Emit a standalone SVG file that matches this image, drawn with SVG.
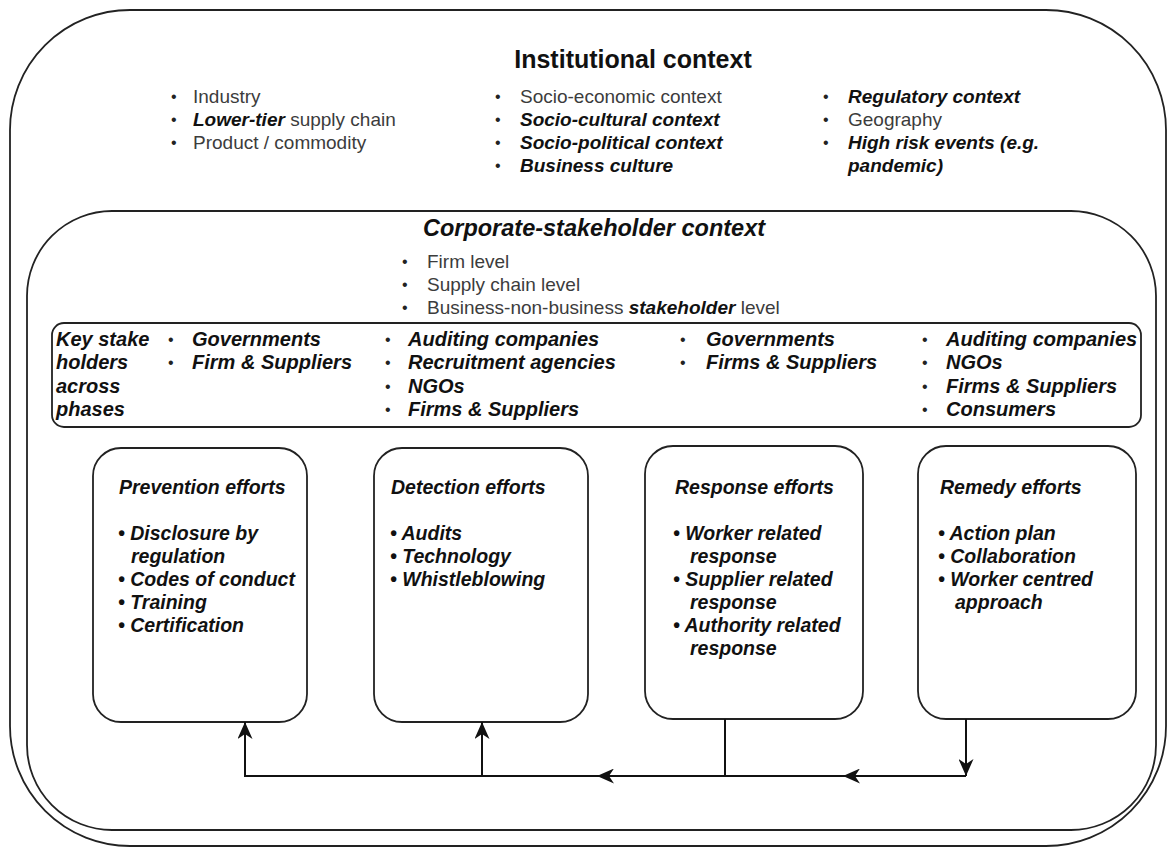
<svg xmlns="http://www.w3.org/2000/svg" width="1167" height="847" viewBox="0 0 1167 847">
<defs>
<marker id="arr" markerUnits="userSpaceOnUse" markerWidth="18" markerHeight="15" refX="17" refY="7.5" orient="auto">
<path d="M0,0 L17,7.5 L0,15 L5,7.5 z" fill="#111"/>
</marker>
<style>
text{font-family:"Liberation Sans",Arial,sans-serif}
.box{fill:none;stroke:#222;stroke-width:1.8}
.n{font-size:19px;fill:#3c3c3c}
.bi{font-weight:bold;font-style:italic;fill:#111}
.k{font-size:20px;font-weight:bold;font-style:italic;fill:#111}
.e{font-size:19.5px;font-weight:bold;font-style:italic;fill:#111}
.h{font-size:25px;font-weight:bold;fill:#111}
.hc{font-size:23.5px;font-weight:bold;font-style:italic;fill:#111}
.dot{font-size:16px;fill:#222;font-style:normal;font-weight:normal}
.con{fill:none;stroke:#111;stroke-width:2}
</style>
</defs>
<rect width="1167" height="847" fill="#fff"/>

<g id="institutional">
<rect class="box" x="10" y="10" width="1156" height="836" rx="120" ry="120"/>
<text class="h" x="633" y="68" text-anchor="middle">Institutional context</text>
<g class="n">
<text class="dot" x="171" y="102">•</text><text x="193" y="103">Industry</text>
<text class="dot" x="171" y="125">•</text><text x="193" y="126"><tspan class="bi">Lower-tier</tspan> supply chain</text>
<text class="dot" x="171" y="148">•</text><text x="193" y="149">Product / commodity</text>
<text class="dot" x="495" y="102">•</text><text x="520" y="103">Socio-economic context</text>
<text class="dot" x="495" y="125">•</text><text class="bi" x="520" y="126">Socio-cultural context</text>
<text class="dot" x="495" y="148">•</text><text class="bi" x="520" y="149">Socio-political context</text>
<text class="dot" x="495" y="171">•</text><text class="bi" x="520" y="172">Business culture</text>
<text class="dot" x="823" y="102">•</text><text class="bi" x="848" y="103">Regulatory context</text>
<text class="dot" x="823" y="125">•</text><text x="848" y="126">Geography</text>
<text class="dot" x="823" y="148">•</text><text class="bi" x="848" y="149">High risk events (e.g.</text>
<text class="bi" x="848" y="172">pandemic)</text>
</g>
</g>

<g id="corporate">
<rect class="box" x="27" y="211" width="1129" height="619" rx="85" ry="85"/>
<text class="hc" x="594" y="236" text-anchor="middle">Corporate-stakeholder context</text>
<g class="n">
<text class="dot" x="402" y="267">•</text><text x="427" y="268">Firm level</text>
<text class="dot" x="402" y="290">•</text><text x="427" y="291">Supply chain level</text>
<text class="dot" x="402" y="313">•</text><text x="427" y="314">Business-non-business <tspan class="bi">stakeholder</tspan> level</text>
</g>
</g>

<g id="key-stakeholders">
<rect class="box" x="52" y="323" width="1089" height="104" rx="12" ry="12"/>
<g class="k">
<text x="56" y="346">Key stake</text>
<text x="56" y="369">holders</text>
<text x="56" y="393">across</text>
<text x="56" y="416">phases</text>
<text class="dot" x="168" y="345">•</text><text x="192" y="346">Governments</text>
<text class="dot" x="168" y="368">•</text><text x="192" y="369">Firm &amp; Suppliers</text>
<text class="dot" x="385" y="345">•</text><text x="408" y="346">Auditing companies</text>
<text class="dot" x="385" y="368">•</text><text x="408" y="369">Recruitment agencies</text>
<text class="dot" x="385" y="392">•</text><text x="408" y="393">NGOs</text>
<text class="dot" x="385" y="415">•</text><text x="408" y="416">Firms &amp; Suppliers</text>
<text class="dot" x="680" y="345">•</text><text x="706" y="346">Governments</text>
<text class="dot" x="680" y="368">•</text><text x="706" y="369">Firms &amp; Suppliers</text>
<text class="dot" x="922" y="345">•</text><text x="946" y="346">Auditing companies</text>
<text class="dot" x="922" y="368">•</text><text x="946" y="369">NGOs</text>
<text class="dot" x="922" y="392">•</text><text x="946" y="393">Firms &amp; Suppliers</text>
<text class="dot" x="922" y="415">•</text><text x="946" y="416">Consumers</text>
</g>
</g>

<g id="prevention">
<rect class="box" x="93" y="448" width="214" height="274" rx="28" ry="28"/>
<g class="e">
<text x="119" y="494">Prevention efforts</text>
<text x="118" y="540">• Disclosure by</text>
<text x="131" y="563">regulation</text>
<text x="118" y="586">• Codes of conduct</text>
<text x="118" y="609">• Training</text>
<text x="118" y="632">• Certification</text>
</g>
</g>

<g id="detection">
<rect class="box" x="374" y="448" width="214" height="274" rx="28" ry="28"/>
<g class="e">
<text x="391" y="494">Detection efforts</text>
<text x="390" y="540">• Audits</text>
<text x="390" y="563">• Technology</text>
<text x="390" y="586">• Whistleblowing</text>
</g>
</g>

<g id="response">
<rect class="box" x="645" y="446" width="218" height="273" rx="28" ry="28"/>
<g class="e">
<text x="675" y="494">Response efforts</text>
<text x="673" y="540">• Worker related</text>
<text x="690" y="563">response</text>
<text x="673" y="586">• Supplier related</text>
<text x="690" y="609">response</text>
<text x="673" y="632">• Authority related</text>
<text x="690" y="655">response</text>
</g>
</g>

<g id="remedy">
<rect class="box" x="918" y="446" width="218" height="273" rx="28" ry="28"/>
<g class="e">
<text x="940" y="494">Remedy efforts</text>
<text x="938" y="540">• Action plan</text>
<text x="938" y="563">• Collaboration</text>
<text x="938" y="586">• Worker centred</text>
<text x="955" y="609">approach</text>
</g>
</g>

<g id="connectors">
<path class="con" d="M966,719 V776" marker-end="url(#arr)"/>
<path class="con" d="M966,776 H843" marker-end="url(#arr)"/>
<path class="con" d="M843,776 H597" marker-end="url(#arr)"/>
<path class="con" d="M725,719 V776"/>
<path class="con" d="M597,776 H245 V722" marker-end="url(#arr)"/>
<path class="con" d="M482,776 V722" marker-end="url(#arr)"/>
</g>
</svg>
